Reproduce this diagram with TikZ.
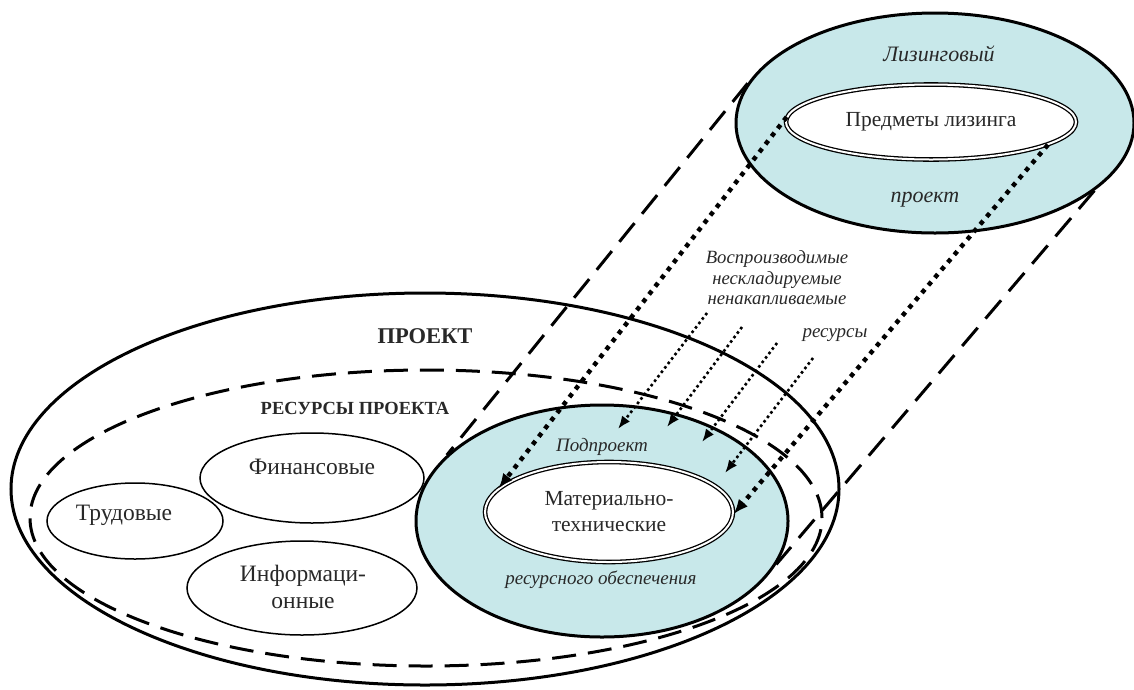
\documentclass[tikz,border=0pt]{standalone}
\usepackage{fontspec}
\setmainfont{Liberation Serif}
\usetikzlibrary{shapes.geometric,arrows.meta}
\definecolor{ringfill}{RGB}{200,232,234}
\definecolor{inktext}{RGB}{40,40,40}
\begin{document}
\begin{tikzpicture}[>={Latex[length=15pt,width=12pt]},x=1pt,y=-1pt,
	oval/.style={ellipse,draw,inner sep=0pt,line width=3pt},
	smalloval/.style={ellipse,draw,inner sep=0pt,line width=1.5pt},
	dbloval/.style={ellipse,draw,double,double distance=2pt,line width=1.3pt,fill=white,inner sep=0pt,
		text=inktext,align=center,font=\fontsize{21.5}{26}\selectfont},
	plain/.style={text=inktext,align=center,font=\fontsize{23.5}{27}\selectfont},
	note/.style={text=inktext,align=center,font=\fontsize{19}{20.5}\selectfont\itshape},
	longdash/.style={line width=3pt,dash pattern=on 24pt off 12pt},
	bigdots/.style={->,line width=4.5pt,dash pattern=on 4.5pt off 5.5pt},
	smalldots/.style={-{Latex[length=13pt,width=10pt]},line width=2.6pt,dash pattern=on 2.6pt off 3pt}]
	\useasboundingbox (0,0) rectangle (1134,689);
	% проект и его ресурсы
	\node[oval,minimum width=828pt,minimum height=392pt] (proj) at (425,489) {};
	\node[oval,longdash,minimum width=792pt,minimum height=296pt] (res) at (426,518) {};
	\node[text=inktext,font=\fontsize{22.5}{26}\selectfont\bfseries] (projtitle) at (425,336) {ПРОЕКТ};
	\node[text=inktext,font=\fontsize{18.5}{21}\selectfont\bfseries] (restitle) at (355,408) {РЕСУРСЫ ПРОЕКТА};
	\node[smalloval,minimum width=176pt,minimum height=76pt] (lab) at (135,521) {};
	\node[plain] (labtext) at (124,515) {Трудовые};
	\node[smalloval,minimum width=224pt,minimum height=90pt] (fin) at (312,478) {};
	\node[plain] (fintext) at (312,467) {Финансовые};
	\node[smalloval,minimum width=230pt,minimum height=94pt] (inf) at (302,588) {};
	\node[plain] (inftext) at (303,587) {Информаци-\\онные};
	% подпроект
	\node[oval,fill=ringfill,minimum width=372pt,minimum height=232pt] (sub) at (602,521) {};
	\node[dbloval,minimum width=248pt,minimum height=100pt] (mat) at (609,512) {Материально-\\технические};
	\node[note] (subtop) at (602,447) {Подпроект};
	\node[note] (subbot) at (601,580) {ресурсного обеспечения};
	% лизинговый проект
	\node[oval,fill=ringfill,minimum width=398pt,minimum height=220pt] (lease) at (935,123) {};
	\node[dbloval,minimum width=290pt,minimum height=75pt] (lp) at (931,122) {Предметы лизинга};
	\node[note,font=\fontsize{22}{24}\selectfont\itshape] (leasetop) at (939,54) {Лизинговый};
	\node[note,font=\fontsize{22}{24}\selectfont\itshape] (leasebot) at (925,200) {проект};
	\node[note,font=\fontsize{18.7}{20.5}\selectfont\itshape] (kinds) at (777,278) {Воспроизводимые\\нескладируемые\\ненакапливаемые};
	\node[note,font=\fontsize{19}{20.5}\selectfont\itshape] (kindsend) at (835,335) {ресурсы};
	% связи
	\draw[longdash] (lease.168) -- (sub.157);
	\draw[longdash] (lease.-23) -- (sub.-14);
	\draw[bigdots] (lp.178) -- (mat.168);
	\draw[bigdots] (lp.-11) -- (mat.-1);
	\coordinate (s1) at (707,313); \coordinate (e1) at (618,429);
	\coordinate (s2) at (742,327); \coordinate (e2) at (667,427);
	\coordinate (s3) at (777,343); \coordinate (e3) at (702,442);
	\coordinate (s4) at (813,358); \coordinate (e4) at (725,473);
	\foreach \i in {1,...,4}
		\draw[smalldots] (s\i) -- (e\i);
\end{tikzpicture}
\end{document}
